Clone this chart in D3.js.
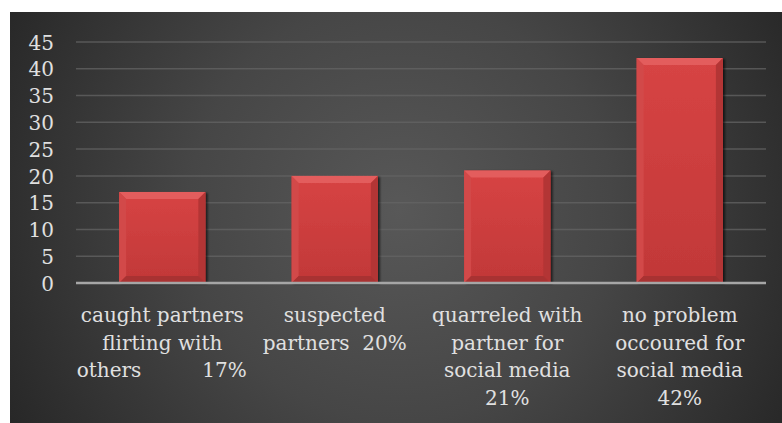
<!DOCTYPE html>
<html>
<head>
<meta charset="utf-8">
<script src="https://cdn.jsdelivr.net/npm/d3@7"></script>
<style>
  html, body { margin: 0; padding: 0; background: #ffffff; }
  svg { display: block; }
  text { font-family: "DejaVu Serif", "Liberation Serif", serif; fill: #e0e0e0; }
</style>
</head>
<body>
<svg id="chart" width="782" height="423"></svg>
<script>
// Survey responses about partners and social media (percent of respondents)
const categories = ["caught", "suspected", "quarreled", "noproblem"];
const values = [17, 20, 21, 42];
const labelLines = [
  ["caught partners", "flirting with", ["others", "17%"]],
  ["suspected", "partners  20%"],
  ["quarreled with", "partner for", "social media", "21%"],
  ["no problem", "occoured for", "social media", "42%"]
];
const yTicks = [0, 5, 10, 15, 20, 25, 30, 35, 40, 45];

const W = 782, H = 423;
const margin = { left: 76, right: 16, top: 42, bottom: 140 };
const svg = d3.select("#chart");
const defs = svg.append("defs");

// Dark panel with a soft radial highlight in the middle
const bg = defs.append("radialGradient").attr("id", "bgGrad")
  .attr("gradientUnits", "userSpaceOnUse")
  .attr("cx", 400).attr("cy", 210).attr("r", 470);
bg.append("stop").attr("offset", "0%").attr("stop-color", "#585858");
bg.append("stop").attr("offset", "45%").attr("stop-color", "#464646");
bg.append("stop").attr("offset", "100%").attr("stop-color", "#242424");
svg.append("rect").attr("x", 10).attr("y", 12).attr("width", W - 10).attr("height", H - 12)
  .attr("fill", "url(#bgGrad)");

// Bar body shading
const barGrad = defs.append("linearGradient").attr("id", "barGrad")
  .attr("x1", 0).attr("y1", 0).attr("x2", 0).attr("y2", 1);
barGrad.append("stop").attr("offset", "0%").attr("stop-color", "#d74444");
barGrad.append("stop").attr("offset", "100%").attr("stop-color", "#c13838");
const shadow = defs.append("filter").attr("id", "barShadow")
  .attr("x", "-10%").attr("y", "-10%").attr("width", "130%").attr("height", "130%");
shadow.append("feDropShadow").attr("dx", 2).attr("dy", 1).attr("stdDeviation", 1.2)
  .attr("flood-color", "#000").attr("flood-opacity", 0.6);

const x = d3.scaleBand().domain(categories).range([margin.left, W - margin.right])
  .paddingInner(0.5).paddingOuter(0.25);
const y = d3.scaleLinear().domain([0, 45]).range([283, 42]);

// Gridlines
svg.append("g").selectAll("line").data(yTicks.filter(t => t > 0)).join("line")
  .attr("x1", margin.left).attr("x2", W - margin.right)
  .attr("y1", d => y(d)).attr("y2", d => y(d))
  .attr("stroke", "#646464").attr("stroke-width", 1.5).attr("stroke-opacity", 0.75);

// Y axis labels
const yAxis = d3.axisLeft(y).tickValues(yTicks).tickSize(0).tickPadding(0);
const yg = svg.append("g").attr("transform", `translate(${margin.left - 22},0)`).call(yAxis);
yg.select(".domain").remove();
yg.selectAll("text").attr("font-size", 20).attr("fill", "#e0e0e0")
  .style("font-family", "DejaVu Serif, serif").attr("dy", "0.36em");

// Bevelled bars
const bev = 7;
const bars = svg.append("g").selectAll("g").data(values).join("g")
  .attr("filter", "url(#barShadow)");
bars.append("rect")
  .attr("x", (d, i) => x(categories[i])).attr("y", d => y(d))
  .attr("width", x.bandwidth()).attr("height", d => y(0) - y(d))
  .attr("fill", "url(#barGrad)");
// top bevel (light)
bars.append("path").attr("fill", "#e35d5d").attr("d", (d, i) => {
  const x0 = x(categories[i]), x1 = x0 + x.bandwidth(), t = y(d);
  return `M${x0},${t}L${x1},${t}L${x1 - bev},${t + bev}L${x0 + bev},${t + bev}Z`;
});
// left bevel
bars.append("path").attr("fill", "#d24949").attr("d", (d, i) => {
  const x0 = x(categories[i]), t = y(d), b = y(0);
  return `M${x0},${t}L${x0 + bev},${t + bev}L${x0 + bev},${b - bev}L${x0},${b}Z`;
});
// right bevel (dark)
bars.append("path").attr("fill", "#b33434").attr("d", (d, i) => {
  const x1 = x(categories[i]) + x.bandwidth(), t = y(d), b = y(0);
  return `M${x1},${t}L${x1 - bev},${t + bev}L${x1 - bev},${b - bev}L${x1},${b}Z`;
});
// bottom bevel
bars.append("path").attr("fill", "#a83131").attr("d", (d, i) => {
  const x0 = x(categories[i]), x1 = x0 + x.bandwidth(), b = y(0);
  return `M${x0},${b}L${x1},${b}L${x1 - bev},${b - bev}L${x0 + bev},${b - bev}Z`;
});

// Baseline
svg.append("line").attr("x1", margin.left).attr("x2", W - margin.right)
  .attr("y1", y(0)).attr("y2", y(0)).attr("stroke", "#a6a6a6").attr("stroke-width", 2.5);

// Category labels
const fs = 20, lh = 27.7, firstBase = 322;
labelLines.forEach((lines, i) => {
  const cx = x(categories[i]) + x.bandwidth() / 2;
  const g = svg.append("g");
  lines.forEach((ln, j) => {
    const yy = firstBase + j * lh;
    if (Array.isArray(ln)) {
      g.append("text").attr("x", cx - 85.5).attr("y", yy).attr("font-size", fs)
        .attr("text-anchor", "start").text(ln[0]);
      g.append("text").attr("x", cx + 84.5).attr("y", yy).attr("font-size", fs)
        .attr("text-anchor", "end").text(ln[1]);
    } else {
      g.append("text").attr("x", cx).attr("y", yy).attr("font-size", fs)
        .attr("text-anchor", "middle").attr("xml:space", "preserve")
        .style("white-space", "pre").text(ln);
    }
  });
});
</script>
</body>
</html>
